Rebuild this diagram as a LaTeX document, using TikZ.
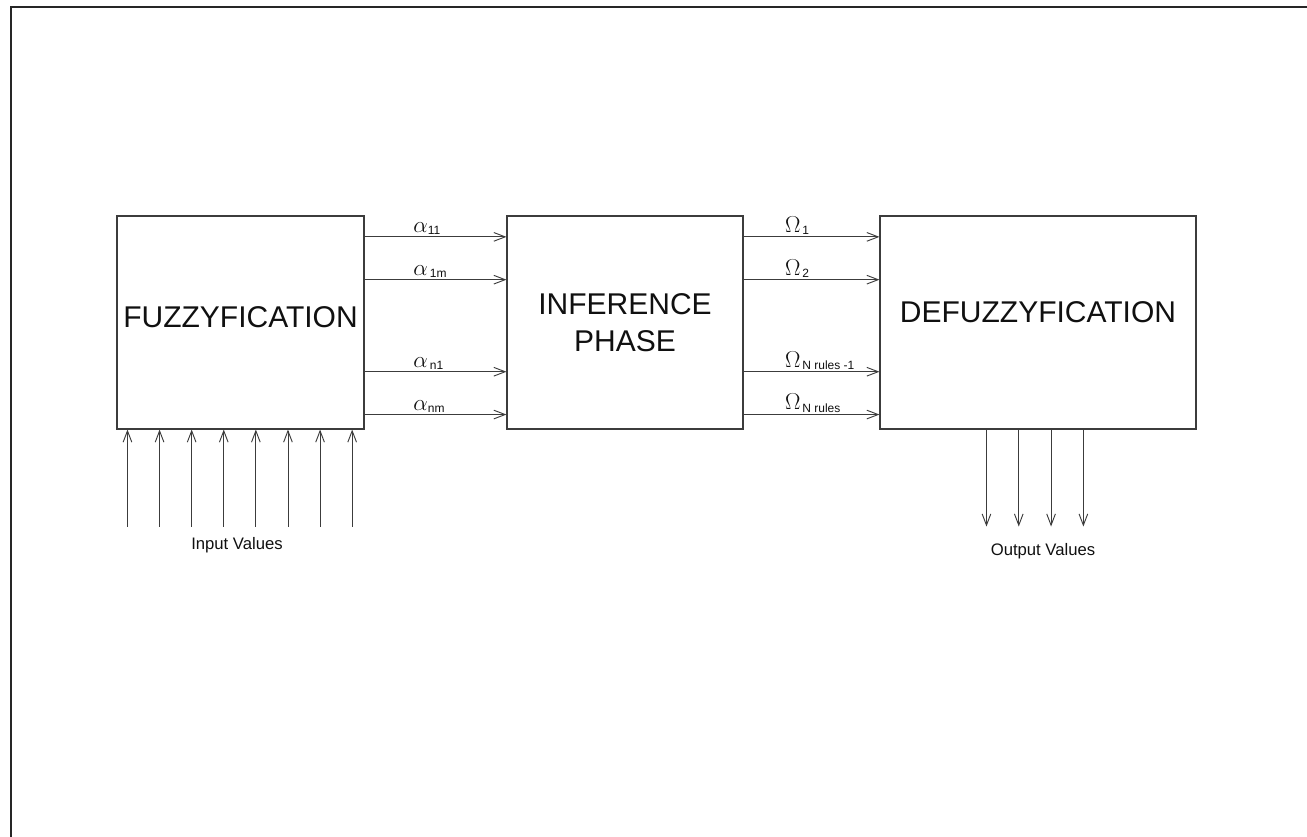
\documentclass[tikz,border=0pt]{standalone}
\usepackage{fontspec}
\setmainfont{Liberation Sans}
\usetikzlibrary{
  arrows.meta,
  calc,
  positioning
}
\definecolor{FzLine}{HTML}{3C3C3C}
\definecolor{FzText}{HTML}{101010}
\tikzset{
  every picture/.style = {line join=miter},
  every node/.style = {text=FzText},
  block/.style = {
    draw=FzLine,
    fill=white,
    line width=0.8pt,
    minimum height=159.75pt,
    align=center,
    inner sep=0pt,
    font=\fontsize{22.5}{27.75}\selectfont
  },
  flow/.style = {-{Straight Barb[length=8.5pt,width=6.5pt]}, draw=FzLine, line width=0.7pt},
  flow label/.style = {anchor=south west, inner sep=1.2pt},
  value label/.style = {font=\fontsize{12.5}{15}\selectfont},
  frame line/.style = {draw=black!85, line width=1.5pt},
}
\newcommand{\SigLabel}[2]{%
  {\fontsize{17}{19}\selectfont#1}\raisebox{-0.35ex}{\fontsize{9}{11}\selectfont#2}%
}

\begin{document}
\begin{tikzpicture}[x=0.75pt,y=-0.75pt]
  \useasboundingbox (0,0) rectangle (1307,837);
  \draw[frame line] (11,837) -- (11,7) -- (1307,7);

  \node[block, minimum width=185.25pt, text depth=7.5pt] (fuzzy) at (240.5,322.5) {FUZZYFICATION};
  \node[block, minimum width=177pt] (infer) at (625,322.5) {INFERENCE\\PHASE};
  \node[block, minimum width=237pt, text depth=15pt] (defuzzy) at (1038,322.5) {DEFUZZYFICATION};

  % fuzzy -> inference
  \foreach \f/\txt in {0.10/{11}, 0.30/{\,1m}, 0.73/{\,n1}, 0.93/{nm}}
    \draw[flow] ($(fuzzy.north east)!\f!(fuzzy.south east)$) --
      node[flow label, pos=0.33] {\SigLabel{$\alpha$}{\txt}}
      ($(infer.north west)!\f!(infer.south west)$);

  % inference -> defuzzy
  \foreach \f/\txt in {0.10/{\,1}, 0.30/{\,2}, 0.73/{\,N rules -1}, 0.93/{\,N rules}}
    \draw[flow] ($(infer.north east)!\f!(infer.south east)$) --
      node[flow label, pos=0.29] {\SigLabel{$\Omega$}{\txt}}
      ($(defuzzy.north west)!\f!(defuzzy.south west)$);

  % inputs and outputs
  \foreach \i in {0,...,7} {
    \coordinate (in\i) at ($(fuzzy.south west)+(11+32.1*\i,97)$);
    \draw[flow] (in\i) -- (in\i |- fuzzy.south);
  }
  \foreach \i in {0,...,3} {
    \coordinate (out\i) at ($(defuzzy.south west)+(107+32.3*\i,97)$);
    \draw[flow] (out\i |- defuzzy.south) -- (out\i);
  }
  \node[value label] (inputs) at (237,545) {Input Values};
  \node[value label] (outputs) at (1043,551) {Output Values};
\end{tikzpicture}
\end{document}
